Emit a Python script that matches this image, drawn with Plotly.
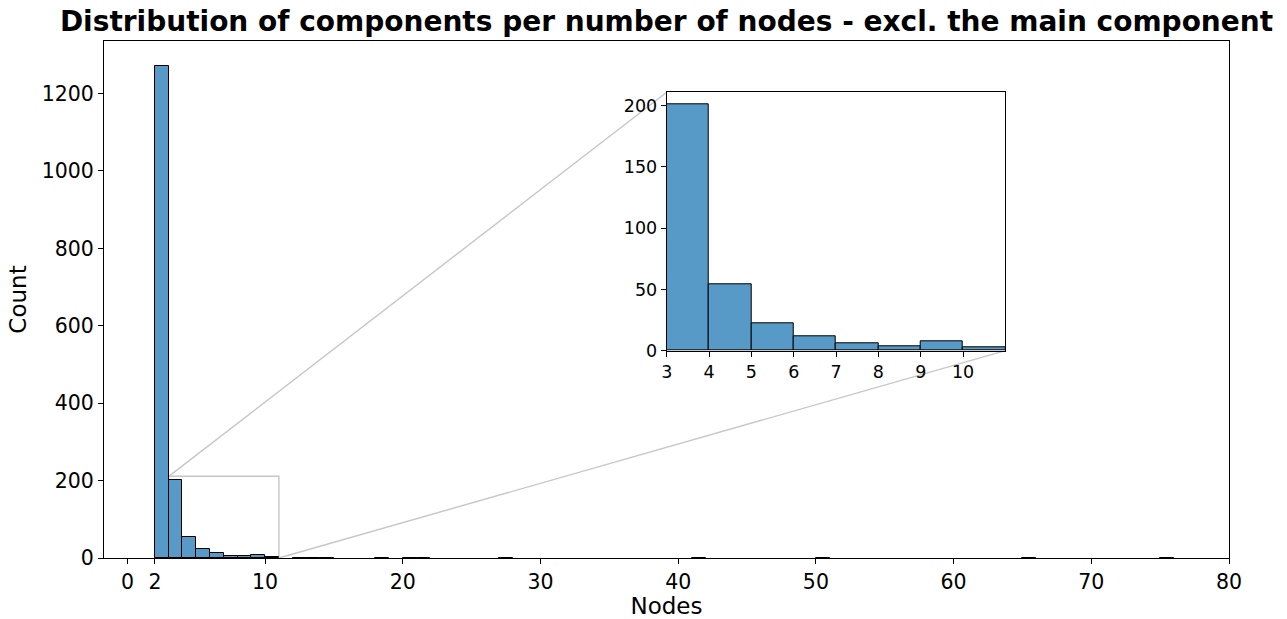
import plotly.graph_objects as go

# Histogram of connected-component sizes (unit-width bins, left edges)
bin_left = [2, 3, 4, 5, 6, 7, 8, 9, 10, 12, 13, 14, 18, 20, 21, 27, 41, 50, 65, 75]
counts = [1272, 201, 54, 22, 12, 6, 4, 8, 3, 1, 1, 1, 1, 1, 1, 1, 1, 1, 1, 1]

main_xticks = [0, 2, 10, 20, 30, 40, 50, 60, 70, 80]
main_yticks = [0, 200, 400, 600, 800, 1000, 1200]
inset_xticks = [3, 4, 5, 6, 7, 8, 9, 10]
inset_yticks = [0, 50, 100, 150, 200]

# axis limits
main_xrange = [-1.7, 80]
main_yrange = [0, max(counts) * 1.05]
zoom_xrange = [3, 11]
zoom_yrange = [0, 211]

# inset placement (paper fractions of the main plot area)
inset_xdom = [0.5002, 0.8012]
inset_ydom = [0.401, 0.9008]

BAR_COLOR = "rgb(87,153,199)"
FONT = "DejaVu Sans"
centers = [b + 0.5 for b in bin_left]

fig = go.Figure()
bar_style = dict(
    x=centers, y=counts, width=[1] * len(centers),
    marker=dict(color=BAR_COLOR, line=dict(color="black", width=1)),
    showlegend=False, hoverinfo="x+y",
)
fig.add_trace(go.Bar(xaxis="x", yaxis="y", **bar_style))
fig.add_trace(go.Bar(xaxis="x2", yaxis="y2", **bar_style))

axis_common = dict(
    showline=True, mirror=True, linecolor="black", linewidth=1,
    ticks="outside", ticklen=5, tickwidth=1, tickcolor="black",
    showgrid=False, zeroline=False, color="black", automargin=False,
)

fig.update_layout(
    width=1287, height=619,
    margin=dict(l=104, r=58, t=41, b=61),
    paper_bgcolor="white", plot_bgcolor="white",
    bargap=0,
    font=dict(family=FONT, color="black"),
    title=dict(
        text="Distribution of components per number of nodes - excl. the main component",
        font=dict(family=FONT, size=28, color="black", weight="bold"),
        x=0.5, xref="paper", xanchor="center",
        y=1 - 21 / 619, yref="container", yanchor="middle",
    ),
    xaxis=dict(
        domain=[0, 1], range=main_xrange, tickvals=main_xticks,
        tickfont=dict(size=20.5),
        title=dict(text="Nodes", font=dict(size=23), standoff=6),
        **axis_common,
    ),
    yaxis=dict(
        domain=[0, 1], range=main_yrange, tickvals=main_yticks,
        tickfont=dict(size=20.5),
        title=dict(text="Count", font=dict(size=23), standoff=8),
        **axis_common,
    ),
    xaxis2=dict(
        domain=inset_xdom, anchor="y2", range=zoom_xrange, tickvals=inset_xticks,
        tickfont=dict(size=17.5),
        **axis_common,
    ),
    yaxis2=dict(
        domain=inset_ydom, anchor="x2", range=zoom_yrange, tickvals=inset_yticks,
        tickfont=dict(size=17.5),
        **axis_common,
    ),
)


def to_paper(x, y):
    px = (x - main_xrange[0]) / (main_xrange[1] - main_xrange[0])
    py = (y - main_yrange[0]) / (main_yrange[1] - main_yrange[0])
    return px, py


GRAY = "rgb(198,198,198)"
# zoom region indicator on the main axes
fig.add_shape(type="rect", xref="x", yref="y",
              x0=zoom_xrange[0], x1=zoom_xrange[1], y0=zoom_yrange[0], y1=zoom_yrange[1],
              line=dict(color=GRAY, width=1.4), layer="below")

# connectors from the indicator to the inset corners
tlx, tly = to_paper(zoom_xrange[0], zoom_yrange[1])
brx, bry = to_paper(zoom_xrange[1], zoom_yrange[0])
fig.add_shape(type="line", xref="paper", yref="paper",
              x0=tlx, y0=tly, x1=inset_xdom[0], y1=inset_ydom[1],
              line=dict(color=GRAY, width=1.4), layer="below")
fig.add_shape(type="line", xref="paper", yref="paper",
              x0=brx, y0=bry, x1=inset_xdom[1], y1=inset_ydom[0],
              line=dict(color=GRAY, width=1.4), layer="below")

fig.write_html("out.html")
